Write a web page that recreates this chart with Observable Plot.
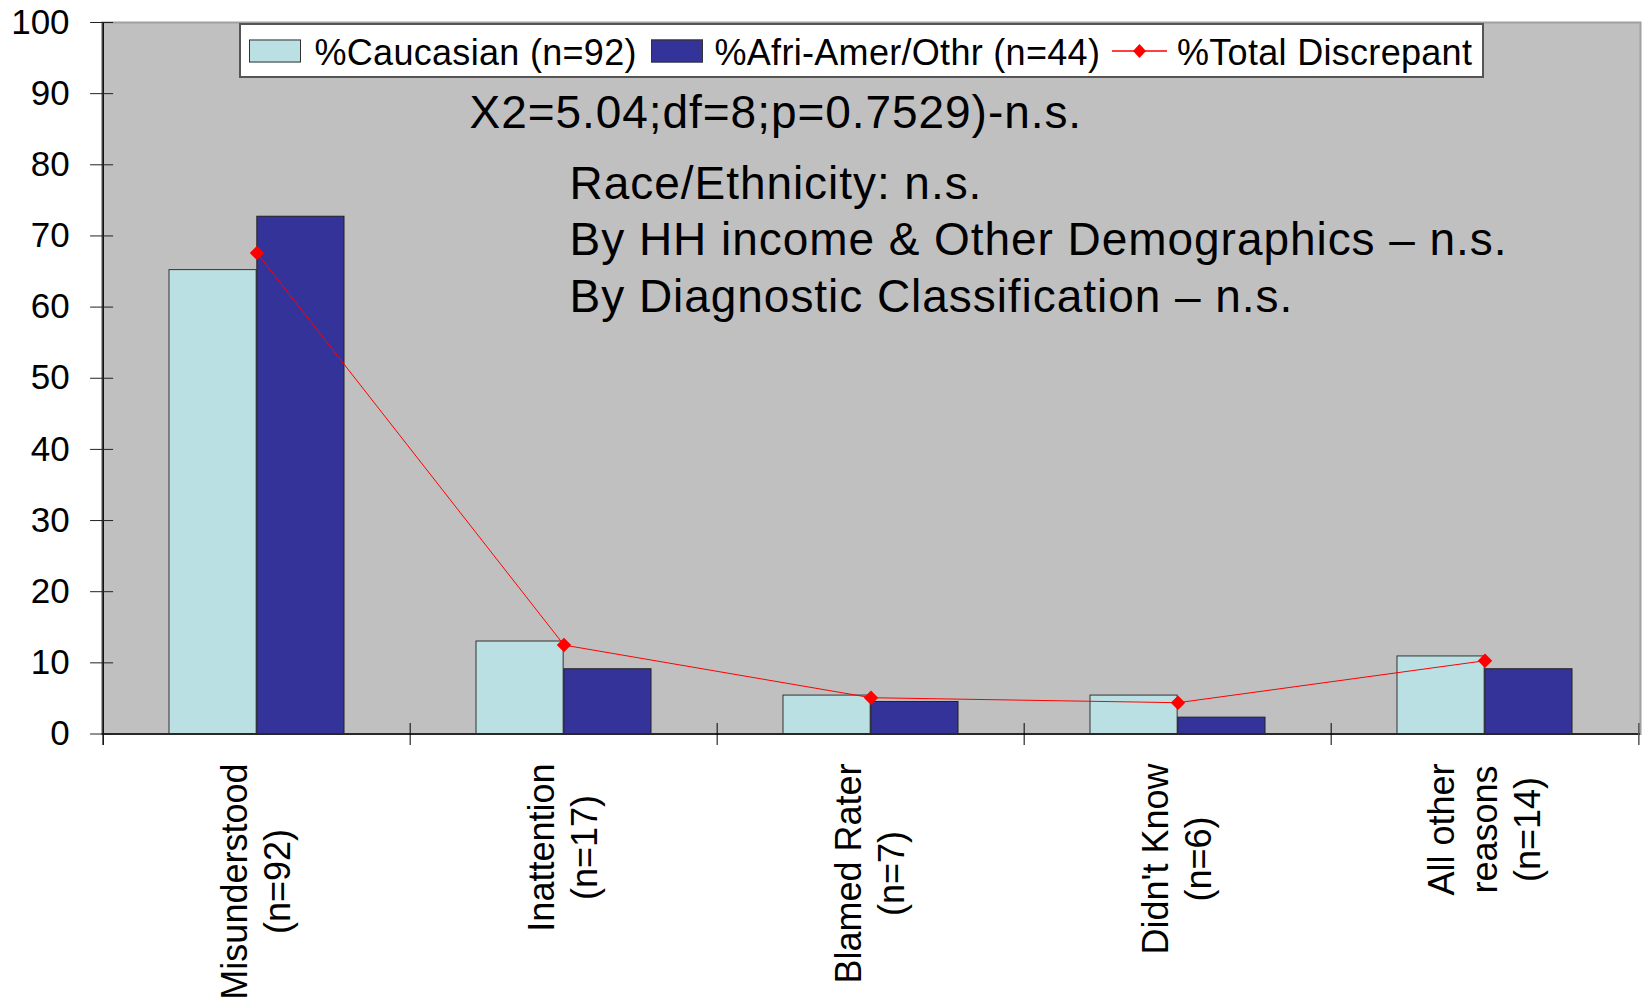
<!DOCTYPE html>
<html>
<head>
<meta charset="utf-8">
<script src="https://cdn.jsdelivr.net/npm/d3@7"></script>
<script src="https://cdn.jsdelivr.net/npm/@observablehq/plot@0.6"></script>
<style>
  body { margin: 0; background: #fff; font-family: "Liberation Sans", Arial, sans-serif; }
  #wrap { position: relative; width: 1645px; height: 1001px; }
  #legend { position: absolute; left: 239px; top: 23px; width: 1245px; height: 55px; box-sizing: border-box;
            background: #fff; border: 2px solid #555; font-size: 36px; color: #000; }
  #legend .it { position: absolute; top: 50%; transform: translateY(-50%); white-space: nowrap; line-height: 1; }
  #legend .tx { transform: translateY(-44%); letter-spacing: 0.3px; }
  #legend .sw { width: 52px; height: 23px; box-sizing: border-box; border: 1px solid #333; }
</style>
</head>
<body>
<div id="wrap"></div>
<script>
// ---- data ----
const categories = ["Misunderstood", "Inattention", "Blamed Rater", "Didn't Know", "All other reasons"];
const tickLabels = ["Misunderstood\n(n=92)", "Inattention\n(n=17)", "Blamed Rater\n(n=7)", "Didn't Know\n(n=6)", "All other\nreasons\n(n=14)"];
const caucasian = [65.2, 13.0, 5.4, 5.4, 10.9];
const afriAmer = [72.7, 9.1, 4.5, 2.3, 9.1];
const totalDiscrepant = [67.6, 12.5, 5.1, 4.4, 10.3];
const yTicks = [0, 10, 20, 30, 40, 50, 60, 70, 80, 90, 100];
const seriesNames = ["%Caucasian (n=92)", "%Afri-Amer/Othr (n=44)", "%Total Discrepant"];
const statLine = "X2=5.04;df=8;p=0.7529)-n.s.";
const notes = ["Race/Ethnicity: n.s.", "By HH income & Other Demographics – n.s.", "By Diagnostic Classification – n.s."];

// ---- colours ----
const cCauc = "#BBE0E3", cAfri = "#333399", cTotal = "#FF0000", cBg = "#C0C0C0";

const rows = categories.map((c, i) => ({
  category: c, label: tickLabels[i], cauc: caucasian[i], afri: afriAmer[i], total: totalDiscrepant[i]
}));

// ---- layout ----
const W = 1645, H = 1001, mL = 101.6, mR = 5, mT = 22, mB = 267.5;
const bw = (W - mL - mR) / categories.length;
const outerPad = 0.2145 * bw;
const font = '"Liberation Sans", Arial, sans-serif';
const labelSize = 36;

const ctx = document.createElement("canvas").getContext("2d");
ctx.font = `${labelSize}px ${font}`;
const maxLen = (s) => Math.max(...s.split("\n").map(l => ctx.measureText(l).width));

const labelMarks = rows.map(r => Plot.text([r], {
  x: "category", y: () => 0, text: "label", rotate: -90,
  textAnchor: "middle", lineAnchor: "middle", lineHeight: 1.2,
  fontSize: labelSize, fill: "#000", dx: -2, dy: 29.5 + maxLen(r.label) / 2
}));

const chart = Plot.plot({
  width: W, height: H,
  marginLeft: mL, marginRight: mR, marginTop: mT, marginBottom: mB,
  style: { background: "#fff", fontFamily: font, color: "#000" },
  x: { type: "band", domain: categories, padding: 0, axis: null },
  y: { domain: [0, 100] },
  marks: [
    Plot.frame({ fill: cBg }),
    Plot.barY(rows, { x: "category", y: "cauc", fill: cCauc, stroke: "#333", strokeWidth: 1,
      insetLeft: outerPad, insetRight: bw / 2 }),
    Plot.barY(rows, { x: "category", y: "afri", fill: cAfri, stroke: "#222", strokeWidth: 1,
      insetLeft: bw / 2, insetRight: outerPad }),
    Plot.frame({ stroke: "#A0A0A0", strokeWidth: 2 }),
    Plot.line(rows, { x: "category", y: "total", stroke: cTotal, strokeWidth: 1 }),
    Plot.dot(rows, { x: "category", y: "total", symbol: "diamond2", r: 6.5, fill: cTotal, stroke: "none" }),
    // axis lines and boundary ticks
    Plot.ruleY([0], { stroke: "#000", strokeWidth: 1.5 }),
    Plot.ruleX([categories[0]], { x: d => d, dx: -bw / 2, y1: () => 100, y2: () => 0, insetBottom: -11.5, stroke: "#000", strokeWidth: 1.5 }),
    Plot.ruleX(categories.slice(1), { x: d => d, dx: -bw / 2, y1: () => 0, y2: () => 0, insetTop: -10.5, insetBottom: -11.5, stroke: "#000" }),
    Plot.ruleX([categories[categories.length - 1]], { x: d => d, dx: bw / 2, y1: () => 0, y2: () => 0, insetTop: -10.5, insetBottom: -11.5, stroke: "#555", strokeWidth: 1.5 }),
    Plot.axisY({ ticks: yTicks, tickSize: 23, insetLeft: 11.5, tickPadding: 21, fontSize: 35, label: null, stroke: "#222" }),
    ...labelMarks,
    // annotations
    Plot.text([statLine], { frameAnchor: "top-left", text: d => d, dx: 367.4, dy: 105.7,
      lineAnchor: "bottom", textAnchor: "start", fontSize: 46, fill: "#000" }),
    Plot.text([notes.join("\n")], { frameAnchor: "top-left", text: d => d, dx: 467.5, dy: 136,
      lineAnchor: "top", lineHeight: 56.7 / 46, textAnchor: "start", fontSize: 46, fill: "#000" })
  ]
});

// the original's annotation type is set slightly wider than Arial
d3.select(chart).selectAll("text")
  .filter(function () { const t = this.textContent; return t === statLine || t.startsWith(notes[0]); })
  .style("letter-spacing", "0.95px");

const wrap = document.getElementById("wrap");
wrap.appendChild(chart);

// ---- legend (inside plot area, as in the original) ----
const legend = document.createElement("div");
legend.id = "legend";
legend.innerHTML = `
  <div class="it sw" style="left:8px;background:${cCauc}"></div>
  <div class="it tx" style="left:73.5px">${seriesNames[0]}</div>
  <div class="it sw" style="left:410px;background:${cAfri}"></div>
  <div class="it tx" style="left:473.5px">${seriesNames[1]}</div>
  <svg class="it" style="left:871px" width="55" height="16" viewBox="0 0 55 16">
    <line x1="0" y1="8" x2="55" y2="8" stroke="${cTotal}" stroke-width="1.5"/>
    <path d="M27.5,1 L34,8 L27.5,15 L21,8 Z" fill="${cTotal}"/>
  </svg>
  <div class="it tx" style="left:936px">${seriesNames[2]}</div>`;
wrap.appendChild(legend);
</script>
</body>
</html>
